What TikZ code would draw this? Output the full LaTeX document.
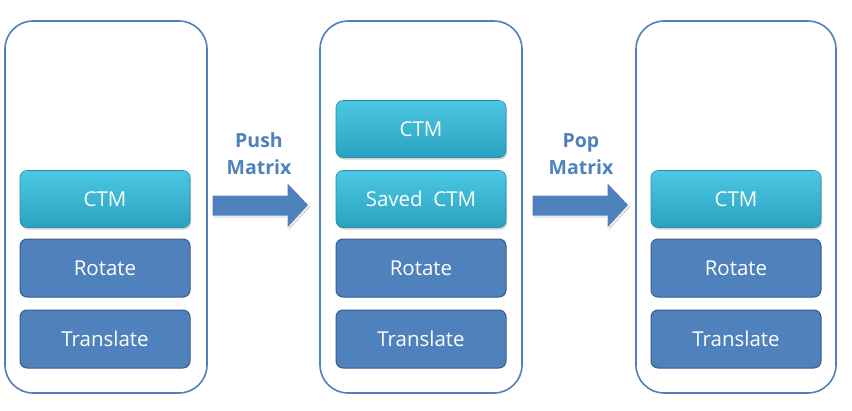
\documentclass[tikz,border=0pt]{standalone}
\usepackage{fontspec}
\setmainfont{Open Sans}
\usetikzlibrary{shadows}
\definecolor{frame}{HTML}{4F81BD}
\definecolor{darkfill}{HTML}{4F81BD}
\definecolor{darkedge}{HTML}{385D8A}
\definecolor{cyantop}{HTML}{4CC8E4}
\definecolor{cyanbot}{HTML}{2AA2BF}
\definecolor{cyanedge}{HTML}{2A8BA6}
\definecolor{labelblue}{HTML}{4F81BD}
\begin{document}
\begin{tikzpicture}[x=1pt,y=-1pt,
  container/.style={draw=frame,line width=1.6pt,rounded corners=28pt,fill=white},
  opbox/.style={draw=darkedge,line width=1pt,fill=darkfill,rounded corners=7pt,
    minimum width=170pt,minimum height=58pt,text=white,font=\fontsize{20.5}{24}\selectfont},
  ctmbox/.style={draw=cyanedge,line width=0.6pt,top color=cyantop,bottom color=cyanbot,rounded corners=7pt,
    minimum width=170pt,minimum height=57pt,text=white,font=\fontsize{20.5}{24}\selectfont,
    drop shadow={shadow xshift=1pt,shadow yshift=-2pt,opacity=0.35}},
  oplabel/.style={text=labelblue,font=\bfseries\fontsize{19.5}{27}\selectfont,align=center},
  bigarrow/.style={fill=frame,draw=white,line width=1pt,
    drop shadow={shadow xshift=1.5pt,shadow yshift=-1.5pt,opacity=0.3}}]
\useasboundingbox (0,0) rectangle (852,410);
% containers
\draw[container] (5,21) rectangle (207,393);
\draw[container] (320,21) rectangle (522,393);
\draw[container] (636,21) rectangle (836,393);
% column 1
\node[ctmbox] (c1) at (105,199) {CTM};
\node[opbox] (r1) at (105,268) {Rotate};
\node[opbox] (t1) at (105,339) {Translate};
% column 2
\node[ctmbox] (c2a) at (421,129) {CTM};
\node[ctmbox] (c2) at (421,199) {Saved\ \ CTM};
\node[opbox] (r2) at (421,268) {Rotate};
\node[opbox] (t2) at (421,339) {Translate};
% column 3
\node[ctmbox] (c3) at (736,199) {CTM};
\node[opbox] (r3) at (736,268) {Rotate};
\node[opbox] (t3) at (736,339) {Translate};
% arrows
\draw[bigarrow] (212,195) -- (287,195) -- (287,182) -- (309,205) -- (287,229) -- (287,216) -- (212,216) -- cycle;
\draw[bigarrow] (532,195) -- (607,195) -- (607,182) -- (629,205) -- (607,229) -- (607,216) -- (532,216) -- cycle;
\node[oplabel] (push) at (259,154) {Push\\Matrix};
\node[oplabel] (pop) at (581,154) {Pop\\Matrix};
\end{tikzpicture}
\end{document}
